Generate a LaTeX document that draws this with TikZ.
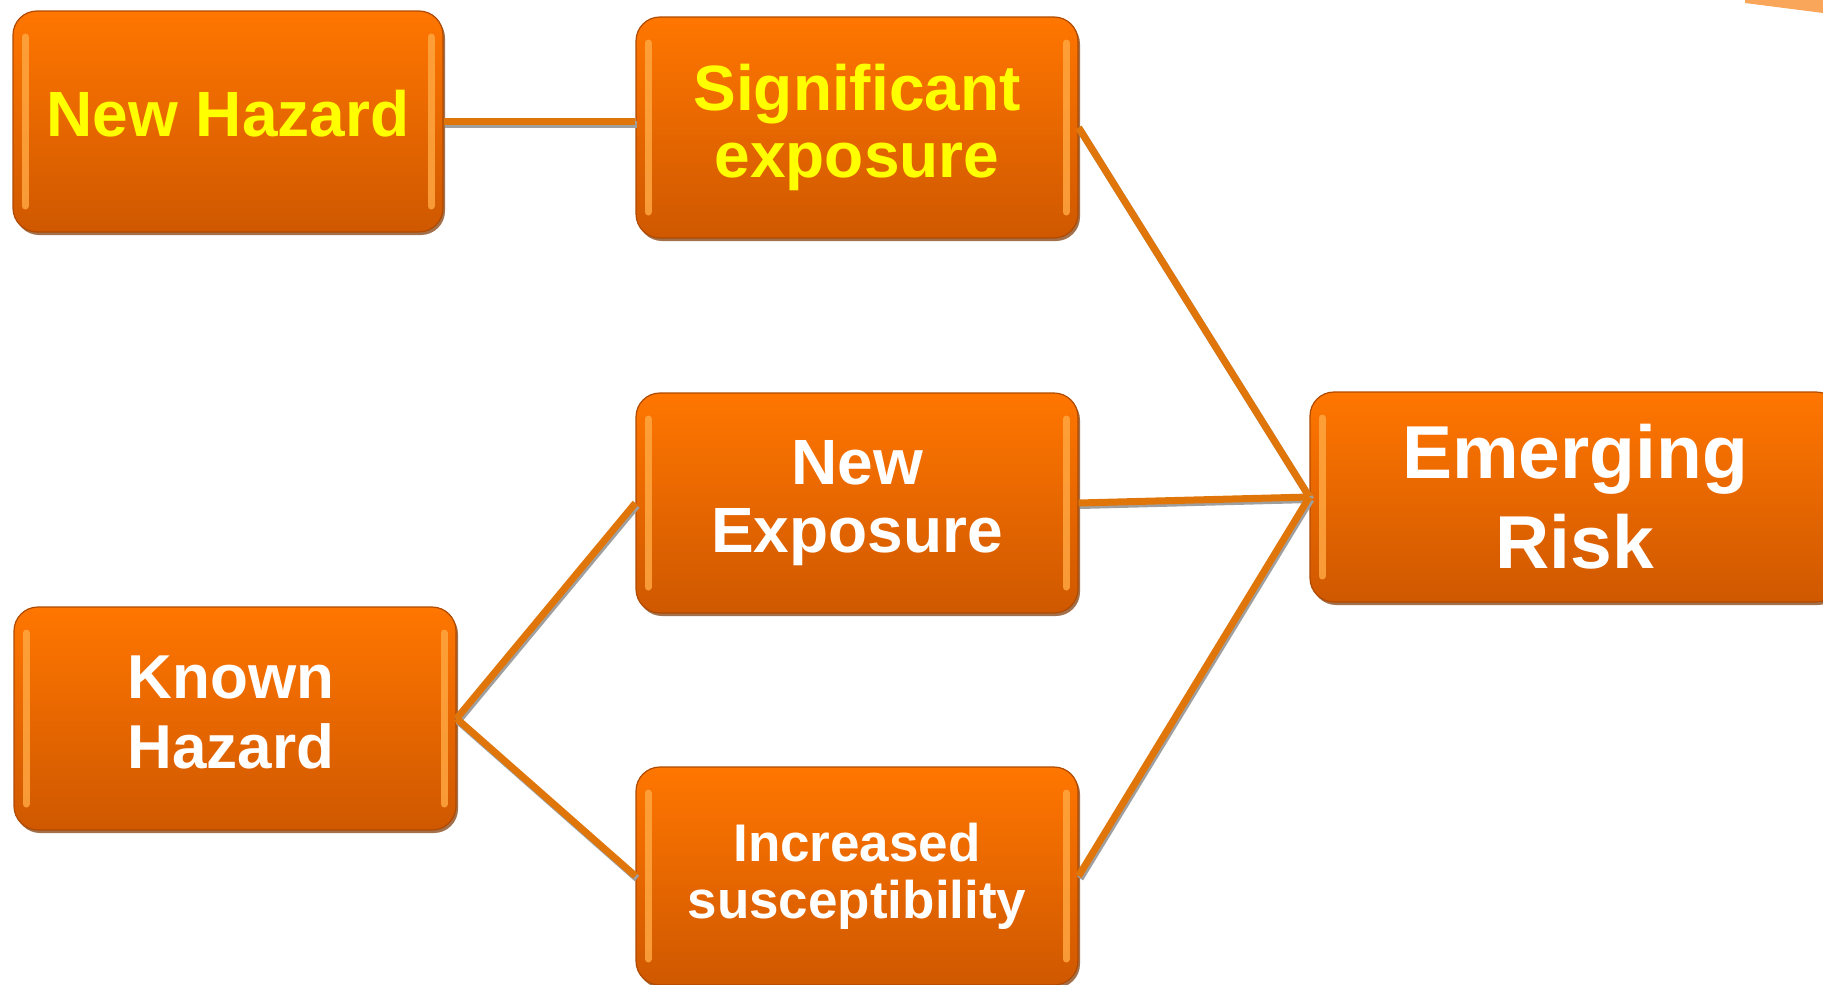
\documentclass[tikz,border=0pt]{standalone}
\usepackage{fontspec}
\setmainfont{Liberation Sans}
\usetikzlibrary{shadows}
\definecolor{boxtop}{HTML}{FF7600}
\definecolor{boxbot}{HTML}{CF5800}
\definecolor{boxedge}{HTML}{B04A00}
\definecolor{boxlight}{HTML}{FFA640}
\definecolor{linkorange}{HTML}{E0760A}
\definecolor{bandorange}{HTML}{F9A65A}
\definecolor{hazardyellow}{HTML}{FFFF00}

\begin{document}
\begin{tikzpicture}[
          x=1pt, y=-1pt,
          box/.style={
            rectangle,
            rounded corners=24pt,
            draw=boxedge,
            line width=1.2pt,
            top color=boxtop,
            bottom color=boxbot,
            text=white,
            align=center,
            inner sep=0pt,
            minimum width=442pt,
            minimum height=220pt,
            drop shadow={shadow xshift=2pt, shadow yshift=-3pt,
              fill=boxedge!70!black, opacity=0.7},
            path picture={
              \draw[boxlight, line width=7pt, line cap=round, opacity=0.85]
                ([xshift=12pt,yshift=-26pt]path picture bounding box.north west)
                -- ([xshift=12pt,yshift=26pt]path picture bounding box.south west)
                ([xshift=-12pt,yshift=-26pt]path picture bounding box.north east)
                -- ([xshift=-12pt,yshift=26pt]path picture bounding box.south east);
            },
          },
          link/.style={
            draw=linkorange,
            line width=7pt,
            preaction={draw=gray!75, line width=7pt,
              transform canvas={shift={(1.5pt,-2.5pt)}}},
          },
        ]
          \useasboundingbox (0,0) rectangle (1823,985);
          \clip (0,0) rectangle (1823,985);

          % stray band in the corner
          \fill[bandorange] (1745,0) -- (1823,0) -- (1823,13) -- (1745,3) -- cycle;

          \node[box, minimum width=430pt, minimum height=221pt, text=hazardyellow,
                font=\fontsize{64}{67}\bfseries\selectfont]
                (nh) at (228,121.5) {};
          \node[text=hazardyellow, font=\fontsize{64}{67}\bfseries\selectfont]
                (nhtext) at ([yshift=8pt]nh.center) {New Hazard};
          \node[box, minimum height=221pt, text=hazardyellow,
                font=\fontsize{64}{67}\bfseries\selectfont]
                (se) at (857,127.5) {Significant\\exposure};
          \node[box, font=\fontsize{64}{68}\bfseries\selectfont]
                (nx) at (857,503) {New\\Exposure};
          \node[box, minimum height=223pt,
                font=\fontsize{62}{70}\bfseries\selectfont]
                (kh) at (235,718.5) {};
          \node[text=white, align=center, font=\fontsize{62}{70}\bfseries\selectfont]
                (khtext) at ([xshift=-4pt,yshift=6pt]kh.center) {Known\\Hazard};
          \node[box, minimum height=218pt,
                font=\fontsize{53}{57}\bfseries\selectfont]
                (is) at (857,876) {Increased\\susceptibility};
          \node[box, minimum width=530pt, minimum height=210pt,
                font=\fontsize{75}{90}\bfseries\selectfont]
                (er) at (1575,497) {Emerging\\Risk};

          \draw
              (nh.east) edge [link] (nh.east -| se.west)

              (kh.east) edge [link] (nx.west)
              (kh.east) edge [link] (is.west)

              (se.east) edge [link] (er.west)
              (nx.east) edge [link] (er.west)
              (is.east) edge [link] (er.west);
        \end{tikzpicture}
\end{document}
